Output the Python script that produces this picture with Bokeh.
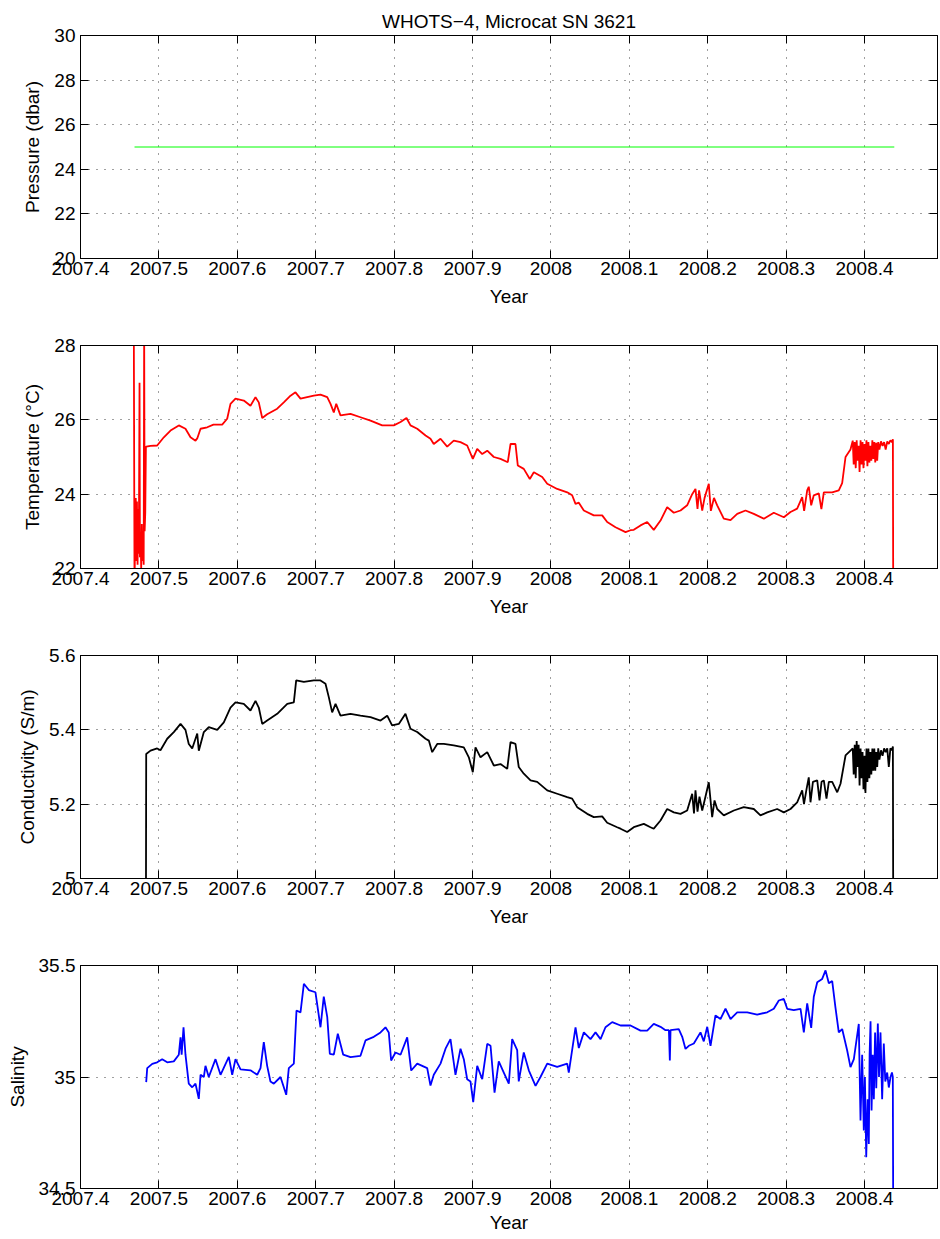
from bokeh.plotting import figure
from bokeh.layouts import column
from bokeh.models import FixedTicker, CustomJSTickFormatter, Range1d, LinearAxis
from bokeh.embed import file_html
from bokeh.resources import INLINE

# ---------------- data ----------------
year_ticks = [2007.4, 2007.5, 2007.6, 2007.7, 2007.8, 2007.9, 2008.0, 2008.1, 2008.2, 2008.3, 2008.4]

pressure_year = [2007.4689, 2008.4380]
pressure_dbar = [25.0, 25.0]

temperature_points = [
    (2007.4680, 28.5), (2007.4689, 21.5), (2007.4697, 23.0), (2007.4705, 23.9), (2007.4712, 22.2),
    (2007.4720, 23.8), (2007.4728, 22.1), (2007.4736, 23.6), (2007.4744, 22.4), (2007.4753, 27.0),
    (2007.4758, 22.3), (2007.4766, 22.9), (2007.4774, 22.0), (2007.4782, 23.2), (2007.4790, 22.2),
    (2007.4798, 22.6), (2007.4806, 22.1), (2007.4812, 28.5), (2007.4818, 23.0), (2007.4826, 23.5),
    (2007.4834, 25.25), (2007.4838, 25.28), (2007.4893, 25.30), (2007.4978, 25.31), (2007.5063, 25.53),
    (2007.5148, 25.71), (2007.5254, 25.85), (2007.5339, 25.76), (2007.5403, 25.53), (2007.5467, 25.44),
    (2007.5489, 25.50), (2007.5531, 25.76), (2007.5616, 25.80), (2007.5696, 25.87), (2007.5807, 25.87),
    (2007.5871, 26.03), (2007.5913, 26.43), (2007.5977, 26.57), (2007.6083, 26.52), (2007.6168, 26.38),
    (2007.6232, 26.61), (2007.6274, 26.47), (2007.6318, 26.05), (2007.6381, 26.15), (2007.6509, 26.30),
    (2007.6593, 26.47), (2007.6679, 26.65), (2007.6742, 26.74), (2007.6806, 26.57), (2007.6976, 26.65),
    (2007.7061, 26.68), (2007.7147, 26.61), (2007.7189, 26.43), (2007.7231, 26.20), (2007.7262, 26.43),
    (2007.7316, 26.12), (2007.7444, 26.16), (2007.7571, 26.07), (2007.7699, 25.98), (2007.7848, 25.85),
    (2007.7996, 25.85), (2007.8082, 25.94), (2007.8158, 26.05), (2007.8209, 25.85), (2007.8295, 25.76),
    (2007.8401, 25.58), (2007.8464, 25.49), (2007.8506, 25.35), (2007.8592, 25.49), (2007.8677, 25.28),
    (2007.8761, 25.44), (2007.8847, 25.40), (2007.8932, 25.31), (2007.9004, 24.95), (2007.9060, 25.22),
    (2007.9124, 25.08), (2007.9188, 25.17), (2007.9272, 25.00), (2007.9357, 24.95), (2007.9450, 24.86),
    (2007.9485, 25.35), (2007.9548, 25.35), (2007.9578, 24.77), (2007.9654, 24.68), (2007.9731, 24.41),
    (2007.9782, 24.59), (2007.9889, 24.46), (2007.9953, 24.28), (2008.0080, 24.14), (2008.0208, 24.05),
    (2008.0271, 23.97), (2008.0314, 23.74), (2008.0356, 23.77), (2008.0420, 23.56), (2008.0547, 23.43),
    (2008.0654, 23.43), (2008.0718, 23.25), (2008.0824, 23.11), (2008.0952, 22.98), (2008.1015, 23.03),
    (2008.1057, 23.04), (2008.1143, 23.16), (2008.1228, 23.25), (2008.1312, 23.04), (2008.1398, 23.29),
    (2008.1483, 23.65), (2008.1568, 23.50), (2008.1653, 23.56), (2008.1738, 23.70), (2008.1802, 24.00),
    (2008.1844, 24.14), (2008.1870, 23.60), (2008.1890, 24.10), (2008.1930, 23.56), (2008.1960, 23.90),
    (2008.2014, 24.28), (2008.2040, 23.55), (2008.2080, 23.90), (2008.2121, 23.70), (2008.2205, 23.34),
    (2008.2291, 23.30), (2008.2376, 23.47), (2008.2482, 23.56), (2008.2588, 23.47), (2008.2716, 23.34),
    (2008.2843, 23.50), (2008.2971, 23.38), (2008.3056, 23.52), (2008.3141, 23.61), (2008.3205, 23.92),
    (2008.3230, 23.55), (2008.3269, 24.10), (2008.3289, 24.20), (2008.3320, 23.70), (2008.3353, 23.97),
    (2008.3417, 24.02), (2008.3450, 23.60), (2008.3481, 24.05), (2008.3588, 24.05), (2008.3672, 24.10),
    (2008.3715, 24.30), (2008.3758, 25.00), (2008.3821, 25.20), (2008.3850, 25.44), (2008.3862, 24.80),
    (2008.3875, 25.40), (2008.3888, 24.70), (2008.3900, 25.45), (2008.3912, 24.90), (2008.3925, 25.30),
    (2008.3937, 24.60), (2008.3950, 25.45), (2008.3962, 24.80), (2008.3975, 25.40), (2008.3987, 24.70),
    (2008.4000, 25.35), (2008.4012, 24.90), (2008.4025, 25.45), (2008.4037, 24.75), (2008.4050, 25.40),
    (2008.4062, 24.85), (2008.4075, 25.30), (2008.4087, 24.90), (2008.4100, 25.45), (2008.4112, 24.95),
    (2008.4125, 25.40), (2008.4137, 24.85), (2008.4150, 25.38), (2008.4162, 24.90), (2008.4175, 25.40),
    (2008.4190, 25.20), (2008.4210, 25.42), (2008.4230, 25.30), (2008.4250, 25.40), (2008.4270, 25.20),
    (2008.4290, 25.42), (2008.4310, 25.35), (2008.4330, 25.45), (2008.4350, 25.40), (2008.4362, 25.48),
    (2008.4366, 21.5),
]

conductivity_points = [
    (2007.4835, 4.95), (2007.4838, 5.335), (2007.4893, 5.344), (2007.4978, 5.350), (2007.5020, 5.345),
    (2007.5106, 5.376), (2007.5190, 5.394), (2007.5276, 5.416), (2007.5339, 5.400), (2007.5381, 5.362),
    (2007.5425, 5.350), (2007.5489, 5.390), (2007.5509, 5.344), (2007.5573, 5.394), (2007.5636, 5.407),
    (2007.5744, 5.400), (2007.5828, 5.420), (2007.5913, 5.460), (2007.5977, 5.474), (2007.6083, 5.470),
    (2007.6168, 5.452), (2007.6232, 5.478), (2007.6274, 5.460), (2007.6318, 5.416), (2007.6381, 5.425),
    (2007.6509, 5.443), (2007.6637, 5.470), (2007.6721, 5.474), (2007.6751, 5.533), (2007.6849, 5.529),
    (2007.6976, 5.533), (2007.7061, 5.533), (2007.7125, 5.524), (2007.7167, 5.488), (2007.7210, 5.447),
    (2007.7253, 5.470), (2007.7316, 5.438), (2007.7444, 5.443), (2007.7571, 5.438), (2007.7699, 5.434),
    (2007.7827, 5.425), (2007.7912, 5.438), (2007.7974, 5.412), (2007.8060, 5.416), (2007.8145, 5.443),
    (2007.8209, 5.403), (2007.8295, 5.394), (2007.8401, 5.376), (2007.8443, 5.371), (2007.8486, 5.340),
    (2007.8550, 5.362), (2007.8634, 5.362), (2007.8761, 5.358), (2007.8889, 5.353), (2007.8953, 5.326),
    (2007.9004, 5.286), (2007.9038, 5.353), (2007.9102, 5.326), (2007.9188, 5.340), (2007.9272, 5.304),
    (2007.9357, 5.308), (2007.9443, 5.295), (2007.9485, 5.367), (2007.9548, 5.362), (2007.9590, 5.300),
    (2007.9654, 5.282), (2007.9740, 5.264), (2007.9825, 5.260), (2007.9953, 5.237), (2008.0080, 5.228),
    (2008.0208, 5.219), (2008.0271, 5.215), (2008.0335, 5.192), (2008.0463, 5.174), (2008.0547, 5.165),
    (2008.0654, 5.167), (2008.0718, 5.150), (2008.0845, 5.138), (2008.0888, 5.134), (2008.0973, 5.125),
    (2008.1057, 5.138), (2008.1185, 5.147), (2008.1270, 5.138), (2008.1312, 5.134), (2008.1398, 5.156),
    (2008.1483, 5.187), (2008.1568, 5.178), (2008.1653, 5.174), (2008.1738, 5.183), (2008.1802, 5.228),
    (2008.1825, 5.175), (2008.1844, 5.237), (2008.1870, 5.180), (2008.1895, 5.220), (2008.1930, 5.183),
    (2008.1960, 5.210), (2008.2014, 5.259), (2008.2057, 5.165), (2008.2087, 5.210), (2008.2121, 5.187),
    (2008.2205, 5.170), (2008.2333, 5.183), (2008.2460, 5.192), (2008.2588, 5.187), (2008.2673, 5.170),
    (2008.2759, 5.178), (2008.2886, 5.187), (2008.2971, 5.178), (2008.3056, 5.187), (2008.3141, 5.205),
    (2008.3205, 5.237), (2008.3228, 5.200), (2008.3260, 5.240), (2008.3289, 5.272), (2008.3311, 5.205),
    (2008.3342, 5.260), (2008.3397, 5.264), (2008.3426, 5.210), (2008.3452, 5.260), (2008.3481, 5.264),
    (2008.3515, 5.215), (2008.3545, 5.260), (2008.3588, 5.260), (2008.3652, 5.232), (2008.3694, 5.255),
    (2008.3758, 5.331), (2008.3821, 5.344), (2008.3850, 5.350), (2008.3862, 5.280), (2008.3875, 5.360),
    (2008.3888, 5.270), (2008.3900, 5.370), (2008.3912, 5.300), (2008.3925, 5.360), (2008.3937, 5.250),
    (2008.3950, 5.350), (2008.3962, 5.270), (2008.3975, 5.340), (2008.3987, 5.240), (2008.4000, 5.330),
    (2008.4012, 5.230), (2008.4025, 5.350), (2008.4037, 5.260), (2008.4050, 5.350), (2008.4062, 5.270),
    (2008.4075, 5.340), (2008.4087, 5.280), (2008.4100, 5.350), (2008.4112, 5.290), (2008.4125, 5.350),
    (2008.4137, 5.290), (2008.4150, 5.340), (2008.4162, 5.300), (2008.4175, 5.350), (2008.4190, 5.320),
    (2008.4210, 5.345), (2008.4230, 5.330), (2008.4250, 5.350), (2008.4270, 5.340), (2008.4290, 5.350),
    (2008.4310, 5.300), (2008.4330, 5.350), (2008.4350, 5.345), (2008.4362, 5.355), (2008.4366, 4.95),
]

salinity_points = [
    (2007.4838, 34.977), (2007.4851, 35.040), (2007.4915, 35.059), (2007.4978, 35.066), (2007.5042, 35.080),
    (2007.5106, 35.066), (2007.5190, 35.070), (2007.5254, 35.100), (2007.5276, 35.178), (2007.5290, 35.100),
    (2007.5314, 35.223), (2007.5339, 35.100), (2007.5381, 34.970), (2007.5425, 34.954), (2007.5467, 34.970),
    (2007.5509, 34.902), (2007.5531, 35.010), (2007.5573, 35.000), (2007.5594, 35.050), (2007.5636, 35.000),
    (2007.5722, 35.080), (2007.5786, 35.010), (2007.5892, 35.090), (2007.5935, 35.010), (2007.5977, 35.080),
    (2007.6041, 35.034), (2007.6168, 35.030), (2007.6254, 35.010), (2007.6296, 35.040), (2007.6338, 35.156),
    (2007.6381, 35.050), (2007.6423, 34.980), (2007.6466, 34.970), (2007.6551, 35.000), (2007.6624, 34.920),
    (2007.6657, 35.040), (2007.6721, 35.060), (2007.6755, 35.298), (2007.6806, 35.290), (2007.6849, 35.418),
    (2007.6912, 35.390), (2007.6997, 35.380), (2007.7061, 35.223), (2007.7103, 35.360), (2007.7147, 35.270),
    (2007.7180, 35.104), (2007.7231, 35.100), (2007.7282, 35.194), (2007.7351, 35.100), (2007.7444, 35.089),
    (2007.7571, 35.095), (2007.7635, 35.164), (2007.7741, 35.180), (2007.7827, 35.200), (2007.7890, 35.223),
    (2007.7932, 35.200), (2007.7962, 35.074), (2007.8018, 35.110), (2007.8082, 35.100), (2007.8167, 35.178),
    (2007.8218, 35.029), (2007.8295, 35.060), (2007.8422, 35.040), (2007.8464, 34.962), (2007.8506, 35.010),
    (2007.8592, 35.060), (2007.8656, 35.127), (2007.8719, 35.170), (2007.8783, 35.010), (2007.8847, 35.127),
    (2007.8889, 35.080), (2007.8932, 34.990), (2007.8974, 34.980), (2007.9009, 34.887), (2007.9060, 35.050),
    (2007.9124, 34.990), (2007.9188, 35.149), (2007.9230, 35.140), (2007.9281, 34.930), (2007.9335, 35.070),
    (2007.9399, 35.020), (2007.9463, 34.970), (2007.9506, 35.170), (2007.9570, 35.120), (2007.9590, 34.980),
    (2007.9654, 35.110), (2007.9718, 35.030), (2007.9804, 34.960), (2007.9867, 35.000), (2007.9953, 35.060),
    (2008.0080, 35.045), (2008.0208, 35.060), (2008.0228, 35.020), (2008.0314, 35.223), (2008.0356, 35.130),
    (2008.0420, 35.200), (2008.0505, 35.170), (2008.0569, 35.200), (2008.0633, 35.170), (2008.0696, 35.223),
    (2008.0782, 35.246), (2008.0888, 35.231), (2008.1015, 35.231), (2008.1143, 35.208), (2008.1228, 35.208),
    (2008.1312, 35.238), (2008.1398, 35.225), (2008.1462, 35.210), (2008.1505, 35.210), (2008.1517, 35.074),
    (2008.1526, 35.210), (2008.1631, 35.215), (2008.1675, 35.180), (2008.1717, 35.126), (2008.1759, 35.140),
    (2008.1823, 35.150), (2008.1908, 35.200), (2008.1950, 35.160), (2008.1994, 35.225), (2008.2036, 35.140),
    (2008.2099, 35.276), (2008.2163, 35.260), (2008.2227, 35.306), (2008.2291, 35.260), (2008.2376, 35.290),
    (2008.2504, 35.290), (2008.2631, 35.280), (2008.2759, 35.290), (2008.2843, 35.306), (2008.2907, 35.343),
    (2008.2971, 35.350), (2008.3014, 35.306), (2008.3098, 35.300), (2008.3184, 35.306), (2008.3226, 35.200),
    (2008.3269, 35.330), (2008.3320, 35.220), (2008.3353, 35.360), (2008.3397, 35.425), (2008.3460, 35.440),
    (2008.3503, 35.478), (2008.3545, 35.420), (2008.3588, 35.430), (2008.3630, 35.310), (2008.3672, 35.200),
    (2008.3715, 35.215), (2008.3779, 35.119), (2008.3821, 35.044), (2008.3864, 35.080), (2008.3927, 35.238),
    (2008.3949, 34.805), (2008.3970, 35.100), (2008.3991, 34.760), (2008.4005, 35.000), (2008.4022, 34.640),
    (2008.4040, 34.900), (2008.4055, 34.700), (2008.4065, 35.100), (2008.4077, 35.250), (2008.4090, 34.850),
    (2008.4105, 35.100), (2008.4119, 34.900), (2008.4135, 35.200), (2008.4150, 34.950), (2008.4170, 35.240),
    (2008.4185, 35.000), (2008.4204, 35.200), (2008.4225, 34.900), (2008.4246, 35.150), (2008.4265, 34.980),
    (2008.4289, 35.020), (2008.4310, 34.953), (2008.4332, 35.000), (2008.4350, 35.020), (2008.4361, 35.000),
    (2008.4366, 34.400),
]

pressure_ticks = [20, 22, 24, 26, 28, 30]
temperature_ticks = [22, 24, 26, 28]
conductivity_ticks = [5.0, 5.2, 5.4, 5.6]
salinity_ticks = [34.5, 35.0, 35.5]

title_text = "WHOTS\u22124, Microcat SN 3621"

# ---------------- styling ----------------
FONT = "Liberation Sans"
FS = "19px"
X_START, X_END = 2007.4, 2008.4931

fmt_code = "return String(Math.round(tick * 10) / 10);"


def style_axis(ax):
    ax.axis_line_color = "black"
    ax.axis_line_width = 1
    ax.major_tick_line_color = "black"
    ax.major_tick_in = 8
    ax.major_tick_out = 0
    ax.minor_tick_line_color = None
    ax.major_label_text_font = FONT
    ax.major_label_text_font_size = FS
    ax.major_label_text_color = "black"
    ax.axis_label_text_font = FONT
    ax.axis_label_text_font_size = FS
    ax.axis_label_text_font_style = "normal"
    ax.axis_label_text_color = "black"
    ax.formatter = CustomJSTickFormatter(code=fmt_code)


def mirror_axis(ticks):
    ax = LinearAxis(ticker=FixedTicker(ticks=ticks))
    ax.axis_line_color = "black"
    ax.major_tick_line_color = "black"
    ax.major_tick_in = 8
    ax.major_tick_out = 0
    ax.minor_tick_line_color = None
    ax.major_label_text_color = None
    ax.major_label_text_font_size = "1px"
    ax.major_label_standoff = 0
    return ax


def make_panel(height, top, bottom, ylabel, yr, yticks, xlabel_standoff, title=None):
    p = figure(width=940, height=height, output_backend="svg", toolbar_location=None,
               x_range=Range1d(X_START, X_END), y_range=Range1d(*yr),
               min_border_left=80, min_border_right=3, min_border_top=top,
               min_border_bottom=bottom, title=title)
    p.background_fill_color = "white"
    p.border_fill_color = "white"
    p.outline_line_color = "black"
    p.outline_line_width = 1

    xt = FixedTicker(ticks=year_ticks)
    yt = FixedTicker(ticks=yticks)
    p.xaxis.ticker = xt
    p.yaxis.ticker = yt
    p.xgrid.ticker = xt
    p.ygrid.ticker = yt
    for g in (p.xgrid, p.ygrid):
        g.grid_line_color = "black"
        g.grid_line_alpha = 0.75
        g.grid_line_dash = "1 7"
        g.grid_line_width = 1

    xa = p.xaxis[0]
    ya = p.yaxis[0]
    style_axis(xa)
    style_axis(ya)
    xa.axis_label = "Year"
    ya.axis_label = ylabel
    xa.major_label_standoff = 3
    xa.axis_label_standoff = xlabel_standoff
    ya.major_label_standoff = 5
    ya.axis_label_standoff = 8

    p.add_layout(mirror_axis(year_ticks), "above")
    p.add_layout(mirror_axis(yticks), "right")

    if title is not None:
        p.title.text_font = FONT
        p.title.text_font_size = FS
        p.title.text_font_style = "normal"
        p.title.text_color = "black"
        p.title.align = "center"
        p.title.standoff = 8
    return p


p1 = make_panel(314, 35, 56, "Pressure (dbar)", (20, 30), pressure_ticks, 8, title=title_text)
p1.line(pressure_year, pressure_dbar, line_color="#00ff00", line_width=1)

p2 = make_panel(310, 31, 56, "Temperature (\u00b0C)", (22, 28), temperature_ticks, 8)
p2.line([t for t, _ in temperature_points], [v for _, v in temperature_points],
        line_color="#ff0000", line_width=1.8)

p3 = make_panel(310, 31, 56, "Conductivity (S/m)", (5.0, 5.6), conductivity_ticks, 8)
p3.line([t for t, _ in conductivity_points], [v for _, v in conductivity_points],
        line_color="black", line_width=1.8)

p4 = make_panel(305, 31, 51, "Salinity", (34.5, 35.5), salinity_ticks, 4)
p4.line([t for t, _ in salinity_points], [v for _, v in salinity_points],
        line_color="#0000ff", line_width=1.8)

layout = column(p1, p2, p3, p4, spacing=0)
open("out.html", "w").write(file_html(layout, INLINE))
